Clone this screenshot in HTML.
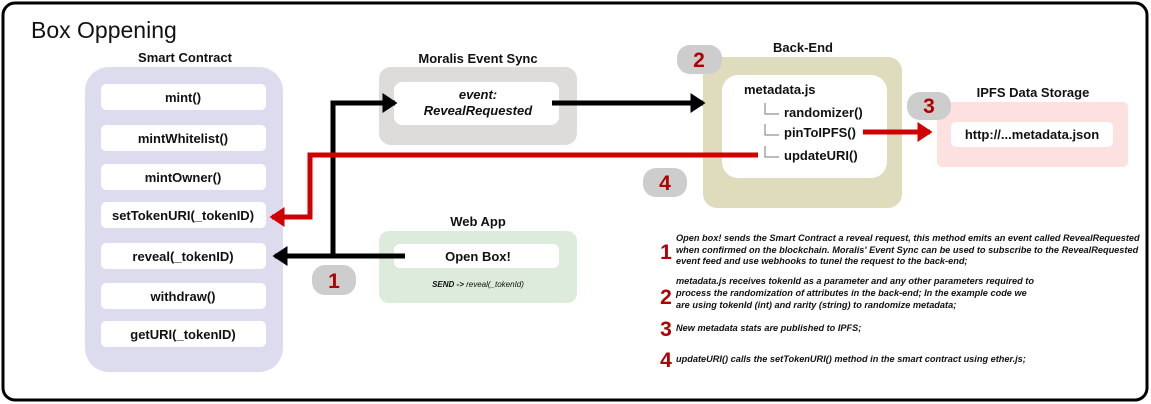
<!DOCTYPE html>
<html><head><meta charset="utf-8"><style>
html,body{margin:0;padding:0;background:#fff;}
svg{display:block;font-family:"Liberation Sans",sans-serif;}
.b{font-weight:bold;font-size:13px;fill:#111;}
.n{font-size:9.2px;font-weight:bold;font-style:italic;fill:#111;}
.num{font-size:21px;font-weight:bold;fill:#b00000;}
</style></head><body>
<svg width="1151" height="404" viewBox="0 0 1151 404">
<defs>
<marker id="ak" markerWidth="4" markerHeight="4" refX="2.5" refY="2" orient="auto" markerUnits="strokeWidth"><path d="M0,0 L3,2 L0,4z" fill="#000"/></marker>
<marker id="ar" markerWidth="4" markerHeight="4" refX="2.5" refY="2" orient="auto" markerUnits="strokeWidth"><path d="M0,0 L3,2 L0,4z" fill="#d00000"/></marker>
</defs>
<rect x="3" y="3" width="1144" height="397" rx="12" fill="#fff" stroke="#000" stroke-width="3"/>
<text x="31" y="38" font-size="23" fill="#111">Box Oppening</text>

<!-- Smart contract -->
<text x="185" y="62" class="b" text-anchor="middle">Smart Contract</text>
<rect x="85" y="67" width="198" height="305" rx="24" fill="#dcdcee"/>
<g fill="#fff">
<rect x="101" y="84" width="165" height="26" rx="5"/>
<rect x="101" y="125" width="165" height="26" rx="5"/>
<rect x="101" y="164" width="165" height="26" rx="5"/>
<rect x="101" y="202" width="165" height="26" rx="5"/>
<rect x="101" y="243" width="165" height="26" rx="5"/>
<rect x="101" y="283" width="165" height="26" rx="5"/>
<rect x="101" y="321" width="165" height="26" rx="5"/>
</g>
<g class="b" text-anchor="middle">
<text x="183" y="102">mint()</text>
<text x="183" y="143">mintWhitelist()</text>
<text x="183" y="182">mintOwner()</text>
<text x="183" y="220">setTokenURI(_tokenID)</text>
<text x="183" y="261">reveal(_tokenID)</text>
<text x="183" y="301">withdraw()</text>
<text x="183" y="339">getURI(_tokenID)</text>
</g>

<!-- Moralis -->
<text x="478" y="63" class="b" text-anchor="middle">Moralis Event Sync</text>
<rect x="379" y="67" width="198" height="78" rx="12" fill="#dedbdb"/>
<rect x="394" y="82" width="165" height="43" rx="8" fill="#fff"/>
<text x="478" y="99" class="b" font-style="italic" text-anchor="middle">event:</text>
<text x="478" y="115" class="b" font-style="italic" text-anchor="middle">RevealRequested</text>

<!-- Web App -->
<text x="478" y="226" class="b" text-anchor="middle">Web App</text>
<rect x="379" y="231" width="198" height="72" rx="10" fill="#dcebdc"/>
<rect x="394" y="244" width="165" height="24" rx="6" fill="#fff"/>
<text x="478" y="261" class="b" text-anchor="middle">Open Box!</text>
<text x="478" y="287" font-size="8" font-style="italic" fill="#111" text-anchor="middle"><tspan font-weight="bold">SEND -&gt;</tspan> reveal(_tokenId)</text>

<!-- Back-End -->
<text x="803" y="52" class="b" text-anchor="middle">Back-End</text>
<rect x="703" y="57" width="199" height="151" rx="14" fill="#dedcbc"/>
<rect x="722" y="75" width="165" height="103" rx="16" fill="#fff"/>
<text x="744" y="94" class="b">metadata.js</text>
<g stroke="#777" stroke-width="1" fill="none">
<path d="M765,103 V114 H779"/><path d="M765,124 V135 H779"/><path d="M765,146 V157 H779"/>
</g>
<text x="784" y="117" class="b">randomizer()</text>
<text x="784" y="137" class="b">pinToIPFS()</text>
<text x="784" y="160" class="b">updateURI()</text>

<!-- IPFS -->
<text x="1033" y="97" class="b" text-anchor="middle">IPFS Data Storage</text>
<rect x="937" y="102" width="191" height="65" rx="5" fill="#fde0e0"/>
<rect x="951" y="122" width="162" height="25" rx="5" fill="#fff"/>
<text x="1032" y="139" class="b" text-anchor="middle">http://...metadata.json</text>

<!-- connectors -->
<g fill="none" stroke-width="5">
<path d="M405,256 H333 V103 H395" stroke="#000" marker-end="url(#ak)"/>
<path d="M405,256 H275" stroke="#000" marker-end="url(#ak)"/>
<path d="M552,103 H703" stroke="#000" marker-end="url(#ak)"/>
<path d="M758,155 H310 V217 H272" stroke="#d00000" marker-end="url(#ar)"/>
<path d="M863,132 H930" stroke="#d00000" marker-end="url(#ar)"/>
</g>

<!-- badges -->
<g fill="#cdcdcd">
<rect x="312" y="265" width="44" height="30" rx="13"/>
<rect x="677" y="45" width="45" height="29" rx="13"/>
<rect x="907" y="92" width="44" height="28" rx="13"/>
<rect x="643" y="168" width="44" height="29" rx="13"/>
</g>
<g class="num" text-anchor="middle">
<text x="334" y="288">1</text>
<text x="699" y="67">2</text>
<text x="929" y="113">3</text>
<text x="665" y="190">4</text>
</g>

<!-- notes -->
<g class="num" text-anchor="middle">
<text x="666" y="259">1</text>
<text x="666" y="304">2</text>
<text x="666" y="336">3</text>
<text x="666" y="367">4</text>
</g>
<g class="n">
<text x="676" y="241">Open box! sends the Smart Contract a reveal request, this method emits an event called RevealRequested</text>
<text x="676" y="253">when confirmed on the blockchain. Moralis' Event Sync can be used to subscribe to the RevealRequested</text>
<text x="676" y="264">event feed and use webhooks to tunel the request to the back-end;</text>
<text x="676" y="284">metadata.js receives tokenId as a parameter and any other parameters required to</text>
<text x="676" y="296">process the randomization of attributes in the back-end; In the example code we</text>
<text x="676" y="308">are using tokenId (int) and rarity (string) to randomize metadata;</text>
<text x="676" y="331">New metadata stats are published to IPFS;</text>
<text x="676" y="362">updateURI() calls the setTokenURI() method in the smart contract using ether.js;</text>
</g>
</svg>
</body></html>
